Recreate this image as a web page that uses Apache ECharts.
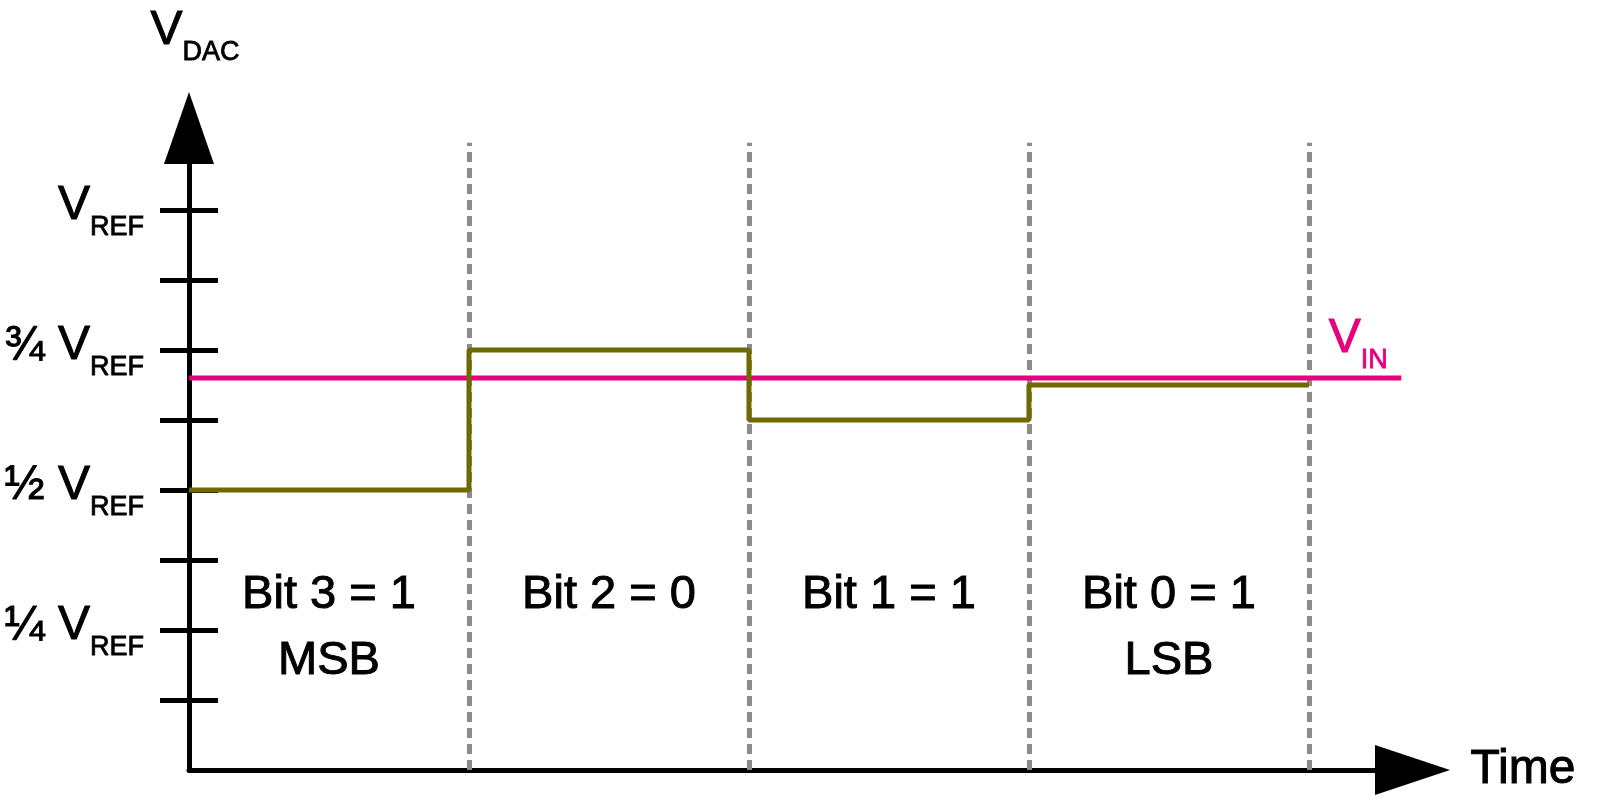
<!DOCTYPE html>
<html>
<head>
<meta charset="utf-8">
<script src="https://cdn.jsdelivr.net/npm/echarts@6/dist/echarts.min.js"></script>
<style>
  html, body { margin: 0; padding: 0; background: #ffffff; }
  #chart { width: 1604px; height: 800px; }
</style>
</head>
<body>
<div id="chart"></div>
<script>
// ---- data ----
const bitLabels = ['Bit 3 = 1', 'Bit 2 = 0', 'Bit 1 = 1', 'Bit 0 = 1'];
const bitNotes = ['MSB', '', '', 'LSB'];
const slotStarts = [0, 1, 2, 3];          // start of each conversion step (time units)
const slotEnd = 4;                         // end of last step
const dacLevels = [0.5, 0.75, 0.625, 0.6875]; // V_DAC in units of V_REF
const vinLevel = 0.7;                      // V_IN in units of V_REF
const vinEnd = 4.33;                       // V_IN trace length (time units)
const yTickValues = [0.125, 0.25, 0.375, 0.5, 0.625, 0.75, 0.875, 1];
const yLabelValues = [0.25, 0.5, 0.75, 1];
const yLabelFractions = ['¼ ', '½ ', '¾ ', ''];
const boundaries = [1, 2, 3, 4];

// ---- layout constants ----
const FONT = 'Liberation Sans';
const X_MAX = 4.37;
const Y_MAX = 1.1464;
const DASH_TOP = 1.12;
const BIT_LABEL_Y = 0.25;
const OLIVE = '#6e6a00';
const PINK = '#e6007e';

const stepData = slotStarts.map((x, i) => [x, dacLevels[i]]);
stepData.push([slotEnd, dacLevels[dacLevels.length - 1]]);

function richFor(color) {
  return {
    v: { fontSize: 48, fontFamily: FONT, color: color, padding: [0, 0, 9, 0],
         textBorderColor: color, textBorderWidth: 1 },
    sub: { fontSize: 27, fontFamily: FONT, color: color, padding: [35, 0, 0, 0],
           textBorderColor: color, textBorderWidth: 0.8 }
  };
}
const richV = richFor('#000');
const richVPink = richFor(PINK);

const chart = echarts.init(document.getElementById('chart'), null, { renderer: 'canvas' });
chart.setOption({
  animation: false,
  backgroundColor: '#ffffff',
  grid: { left: 189, top: 128, bottom: 30, width: 1223.5 },
  xAxis: {
    type: 'value',
    min: 0,
    max: X_MAX,
    interval: 1,
    name: 'Time',
    nameLocation: 'end',
    nameGap: 58,
    nameTextStyle: { fontSize: 48, fontFamily: FONT, color: '#000', verticalAlign: 'middle',
                     textBorderColor: '#000', textBorderWidth: 1 },
    axisLine: {
      show: true,
      onZero: false,
      symbol: ['none', 'triangle'],
      symbolSize: [50, 75],
      lineStyle: { color: '#000', width: 5 }
    },
    axisTick: { show: false },
    axisLabel: { show: false },
    splitLine: { show: false }
  },
  yAxis: [
    {
      type: 'value',
      min: 0,
      max: Y_MAX,
      position: 'left',
      name: '{v|V}{sub|DAC}',
      nameLocation: 'end',
      nameGap: 62,
      nameTextStyle: { rich: richV, padding: [0, 0, 0, 12] },
      axisLine: {
        show: true,
        onZero: false,
        symbol: ['none', 'triangle'],
        symbolSize: [50, 72],
        lineStyle: { color: '#000', width: 5 }
      },
      axisTick: {
        show: true,
        inside: false,
        length: 29,
        customValues: yTickValues,
        lineStyle: { color: '#000', width: 5 }
      },
      axisLabel: {
        show: true,
        margin: 45,
        customValues: yLabelValues,
        formatter: function (val) {
          let idx = -1;
          yLabelValues.forEach((v, i) => { if (Math.abs(v - val) < 1e-6) idx = i; });
          if (idx < 0) return '';
          return '{v|' + yLabelFractions[idx] + 'V}{sub|REF}';
        },
        rich: richV
      },
      splitLine: { show: false }
    },
    {
      type: 'value',
      min: 0,
      max: Y_MAX,
      position: 'left',
      axisLine: { show: false },
      axisTick: {
        show: true,
        inside: true,
        length: 29,
        customValues: yTickValues,
        lineStyle: { color: '#000', width: 5 }
      },
      axisLabel: { show: false },
      splitLine: { show: false }
    }
  ],
  series: [
    {
      name: 'boundaries',
      type: 'line',
      data: [],
      silent: true,
      markLine: {
        silent: true,
        symbol: ['none', 'none'],
        label: { show: false },
        lineStyle: { type: [10, 6], width: 5, color: '#8c8c8c', cap: 'butt' },
        data: boundaries.map(b => [{ coord: [b, 0] }, { coord: [b, DASH_TOP] }])
      }
    },
    {
      name: 'V_IN',
      type: 'line',
      z: 10,
      data: [[0, vinLevel], [vinEnd, vinLevel]],
      symbol: 'none',
      lineStyle: { color: PINK, width: 5 }
    },
    {
      name: 'V_DAC',
      type: 'line',
      z: 11,
      step: 'end',
      data: stepData,
      symbol: 'none',
      lineStyle: { color: OLIVE, width: 5 }
    },
    {
      name: 'vinLabel',
      type: 'scatter',
      z: 12,
      silent: true,
      symbolSize: 1,
      itemStyle: { color: 'transparent', opacity: 1 },
      data: [[vinEnd, vinLevel]],
      label: {
        show: true,
        position: 'inside',
        offset: [-43, -35],
        formatter: '{v|V}{sub|IN}',
        rich: richVPink
      }
    },
    {
      name: 'bitLabels',
      type: 'scatter',
      z: 12,
      silent: true,
      symbolSize: 1,
      itemStyle: { color: 'transparent', opacity: 1 },
      data: bitLabels.map((t, i) => ({
        value: [slotStarts[i] + 0.5, BIT_LABEL_Y],
        label: { formatter: t + '\n' + bitNotes[i] }
      })),
      label: {
        show: true,
        position: 'inside',
        offset: [0, -2],
        fontSize: 47,
        lineHeight: 66,
        fontFamily: FONT,
        color: '#000',
        textBorderColor: '#000',
        textBorderWidth: 1
      }
    }
  ]
});
</script>
</body>
</html>
